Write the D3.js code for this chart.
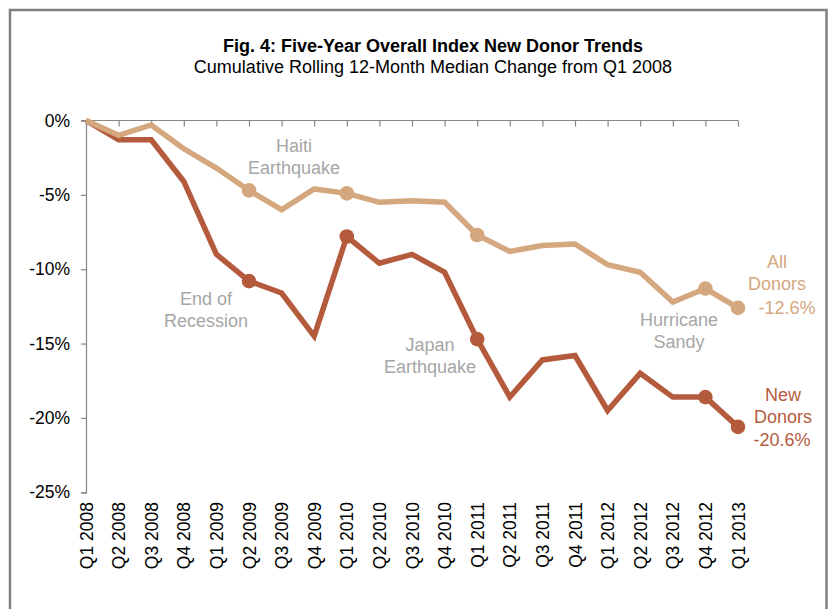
<!DOCTYPE html>
<html>
<head>
<meta charset="utf-8">
<script src="https://cdn.jsdelivr.net/npm/d3@7"></script>
<style>
  html, body { margin: 0; padding: 0; background: #fff; }
  svg { display: block; font-family: "Liberation Sans", Arial, sans-serif; }
</style>
</head>
<body>
<svg id="chart" width="830" height="609"></svg>
<script>
const quarters = ["Q1 2008","Q2 2008","Q3 2008","Q4 2008","Q1 2009","Q2 2009","Q3 2009","Q4 2009",
  "Q1 2010","Q2 2010","Q3 2010","Q4 2010","Q1 2011","Q2 2011","Q3 2011","Q4 2011",
  "Q1 2012","Q2 2012","Q3 2012","Q4 2012","Q1 2013"];
const allDonors = [0, -1.0, -0.3, -1.9, -3.2, -4.7, -6.0, -4.6, -4.9, -5.5, -5.4, -5.5,
  -7.7, -8.8, -8.4, -8.3, -9.7, -10.2, -12.2, -11.3, -12.6];
const newDonors = [0, -1.3, -1.3, -4.1, -9.0, -10.8, -11.6, -14.5, -7.8, -9.6, -9.0, -10.2,
  -14.7, -18.6, -16.1, -15.8, -19.5, -17.0, -18.6, -18.6, -20.6];
const markerIdx = [5, 8, 12, 19, 20];
const yTicks = [0, -5, -10, -15, -20, -25];

const svg = d3.select("#chart");
const allColor = "#D4A77E", newColor = "#B55B3D", annColor = "#A6A6A6", axisColor = "#868686";

// frame
svg.append("rect").attr("x", 10).attr("y", 10).attr("width", 816.5).attr("height", 620)
  .attr("fill", "none").attr("stroke", "#808080").attr("stroke-width", 2.5);

// titles
svg.append("text").attr("x", 433).attr("y", 52).attr("text-anchor", "middle")
  .attr("font-size", 18).attr("font-weight", "bold").attr("fill", "#000")
  .text("Fig. 4: Five-Year Overall Index New Donor Trends");
svg.append("text").attr("x", 433).attr("y", 73).attr("text-anchor", "middle")
  .attr("font-size", 18).attr("fill", "#000")
  .text("Cumulative Rolling 12-Month Median Change from Q1 2008");

const x = d3.scalePoint().domain(quarters).range([86, 738]);
const y = d3.scaleLinear().domain([-25, 0]).range([492.3, 120.5]);

// y axis
const yAxis = svg.append("g").attr("transform", "translate(86,0)")
  .call(d3.axisLeft(y).tickValues(yTicks).tickSize(5).tickPadding(11).tickFormat(d => d + "%"));
yAxis.select(".domain").attr("stroke", axisColor).attr("stroke-width", 1.2);
yAxis.selectAll(".tick line").attr("stroke", axisColor).attr("stroke-width", 1.2);
yAxis.selectAll(".tick text").attr("font-size", 17.5).attr("fill", "#000")
  .attr("font-family", "Liberation Sans, Arial, sans-serif");

// x axis at 0%
const xAxis = svg.append("g").attr("transform", `translate(0,${y(0)})`)
  .call(d3.axisBottom(x).tickSize(6).tickFormat(""));
xAxis.select(".domain").attr("stroke", axisColor).attr("stroke-width", 1.2)
  .attr("d", `M81,0H738`);
xAxis.selectAll(".tick line").attr("stroke", axisColor).attr("stroke-width", 1.2);

// x labels (rotated) at bottom
svg.append("g").selectAll("text").data(quarters).enter().append("text")
  .attr("transform", d => `translate(${x(d) + 6.5},502) rotate(-90)`)
  .attr("text-anchor", "end").attr("font-size", 17.5).attr("fill", "#000")
  .text(d => d);

const line = d3.line().x((d, i) => x(quarters[i])).y(d => y(d)).curve(d3.curveLinear);

function drawSeries(vals, color) {
  svg.append("path").datum(vals).attr("d", line).attr("fill", "none")
    .attr("stroke", color).attr("stroke-width", 5.5).attr("stroke-linejoin", "miter")
    .attr("stroke-miterlimit", 4);
  svg.append("g").selectAll("circle").data(markerIdx).enter().append("circle")
    .attr("cx", i => x(quarters[i])).attr("cy", i => y(vals[i])).attr("r", 7.3)
    .attr("fill", color);
}
drawSeries(newDonors, newColor);
drawSeries(allDonors, allColor);

// annotations
function ann(lines, cx, y0, color, anchor) {
  const t = svg.append("text").attr("font-size", 18).attr("fill", color)
    .attr("text-anchor", anchor || "middle");
  lines.forEach((l, k) => t.append("tspan").attr("x", cx).attr("y", y0 + k * 21.5).text(l));
}
ann(["Haiti", "Earthquake"], 294, 152, annColor);
ann(["End of", "Recession"], 206, 305, annColor);
ann(["Japan", "Earthquake"], 430, 351, annColor);
ann(["Hurricane", "Sandy"], 679, 326, annColor);
ann(["All", "Donors"], 777, 268, allColor);
ann(["-12.6%"], 787, 314, allColor);
ann(["New", "Donors"], 783, 401, newColor);
ann(["-20.6%"], 782, 446, newColor);
</script>
</body>
</html>
